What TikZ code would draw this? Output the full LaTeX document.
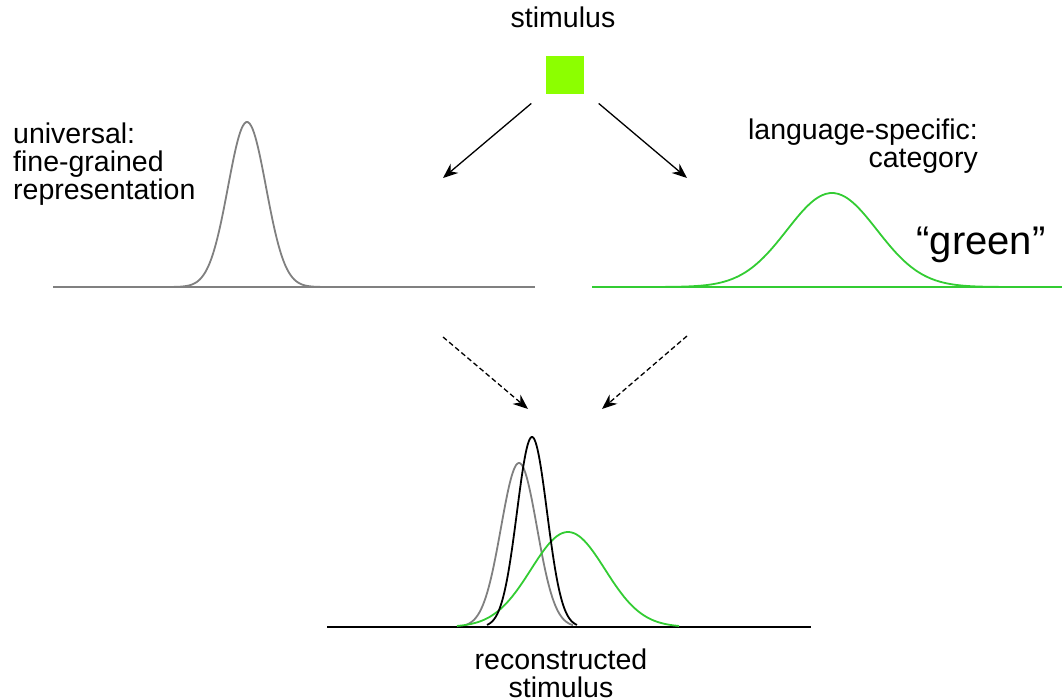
\documentclass[tikz,border=0pt]{standalone}
\usepackage{fontspec}
\setmainfont{Liberation Sans}
\usetikzlibrary{arrows.meta}
\definecolor{stimgreen}{RGB}{140,255,0}
\definecolor{catgreen}{RGB}{51,204,51}
\definecolor{finegray}{RGB}{128,128,128}

\begin{document}
\begin{tikzpicture}[x=1pt,y=-1pt]
\tikzstyle{lbl}=[inner sep=0,font=\fontsize{28.5}{28}\selectfont]
\tikzstyle{curve}=[line width=1.8pt,smooth,samples=90]
\tikzstyle{arr}=[line width=1.3pt,-{Stealth[length=15pt,width=12pt]}]
\useasboundingbox (0,0) rectangle (1062,700);
\node[lbl,anchor=base] (stimlbl) at (563,28) {stimulus};
\node[fill=stimgreen,minimum size=38pt,inner sep=0] (stim) at (565,75) {};
\coordinate (finehead) at (443,178);
\coordinate (cathead) at (687,178);
\draw[arr,shorten <=19pt] (stim) -- (finehead);
\draw[arr,shorten <=19pt] (stim) -- (cathead);
% universal
\node[lbl,align=left,anchor=north west] (univ) at (13,123) {universal:\\fine-grained\\representation};
\draw[curve,finegray] (53,287) -- (535,287);
\draw[curve,finegray] plot[domain=171:323] (\x,{287-165*exp(-((\x-247)/19)^2/2)});
% language-specific
\node[lbl,align=right,anchor=north east] (lang) at (978,119) {language-specific:\\category};
\node[font=\fontsize{40}{40}\selectfont,inner sep=0,anchor=base] (word) at (981,255) {“green”};
\draw[curve,catgreen] (592,287) -- (1062,287);
\draw[curve,catgreen] plot[domain=652:1012] (\x,{287-94*exp(-((\x-832)/45)^2/2)});
% reconstruction
\coordinate (finetail) at (443,337);
\coordinate (recleft) at (528,409);
\coordinate (cattail) at (687,336);
\coordinate (recright) at (602,409);
\draw[arr,dash pattern=on 5pt off 3pt] (finetail) -- (recleft);
\draw[arr,dash pattern=on 5pt off 3pt] (cattail) -- (recright);
\draw[curve,black] (327,627) -- (811,627);
\foreach \col/\mu/\sig/\ht in {finegray/519/18/164,catgreen/568/37/95,black/532/15/190}{
\draw[curve,\col] plot[domain=\mu-3*\sig:\mu+3*\sig] (\x,{627-\ht*exp(-((\x-\mu)/\sig)^2/2)});
}
\node[lbl,align=center,anchor=north] (recon) at (561,649) {reconstructed\\stimulus};
\end{tikzpicture}
\end{document}
